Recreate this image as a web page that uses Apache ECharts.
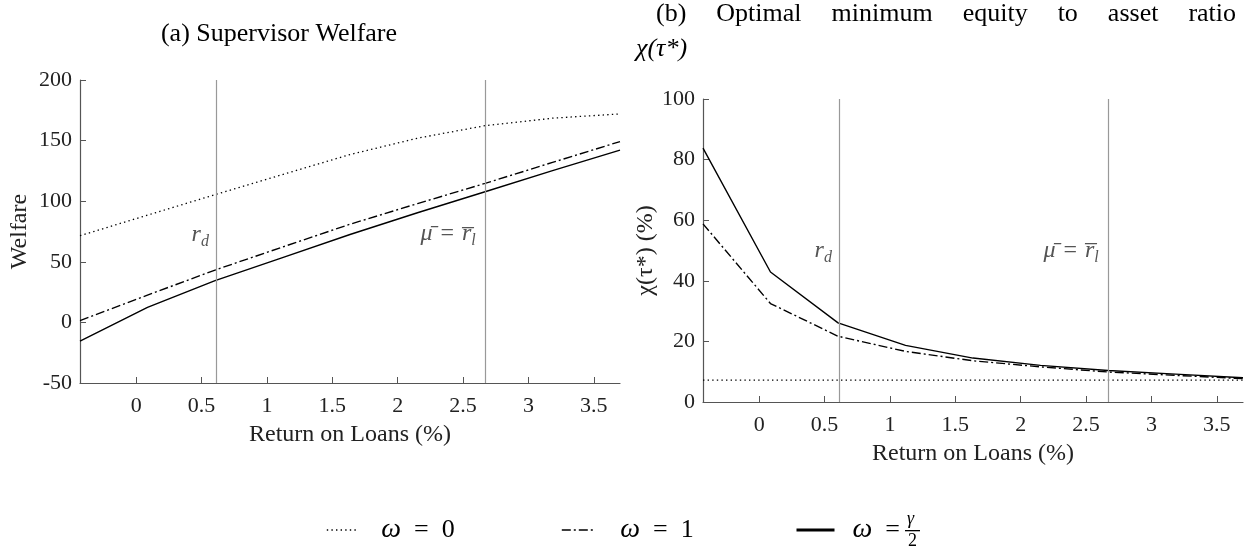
<!DOCTYPE html>
<html>
<head>
<meta charset="utf-8">
<script src="https://cdn.jsdelivr.net/npm/echarts@6/dist/echarts.min.js"></script>
<style>html,body{margin:0;padding:0;background:#fff}#c{width:1260px;height:552px}</style>
</head>
<body>
<div id="c"></div>
<script>
// ---- data ----
const returnOnLoans = [-0.43, 0.086, 0.603, 1.119, 1.635, 2.151, 2.668, 3.184, 3.7];
const welfareOmega0 = [71.5, 88.5, 105.4, 122, 138.5, 152, 162.3, 168.5, 172];
const welfareOmega1 = [1.5, 22.5, 43.2, 62.2, 81, 98, 114.7, 132, 149.2];
const welfareOmegaHalfGamma = [-15.5, 12.4, 34.4, 53.5, 72.5, 90.5, 107.8, 125.2, 142.2];
const ratioOmega0 = [7.2, 7.2, 7.2, 7.2, 7.2, 7.2, 7.2, 7.2, 7.2];
const ratioOmega1 = [58.8, 32.5, 21.7, 16.7, 13.6, 11.6, 9.9, 8.8, 7.7];
const ratioOmegaHalfGamma = [83.8, 42.9, 26.1, 18.7, 14.5, 12.1, 10.4, 9.2, 8.0];
const xTickValues = [0, 0.5, 1, 1.5, 2, 2.5, 3, 3.5];
const rd = 0.612;
const muBar = 2.665;
const seriesNames = ['ω = 0', 'ω = 1', 'ω = γ/2'];
const titleBWords = ['(b)', 'Optimal', 'minimum', 'equity', 'to', 'asset', 'ratio'];

const FONT = "'Liberation Serif', 'DejaVu Serif', serif";
const pairs = ys => returnOnLoans.map((x, i) => [x, ys[i]]);

const styles = [
  {type: [1.4, 3.2], width: 1.3, color: '#000'},
  {type: [9, 3, 2, 3], width: 1.4, color: '#000'},
  {type: 'solid', width: 1.4, color: '#000'}
];

const richLabels = {
  it: {fontFamily: FONT, fontStyle: 'italic', fontSize: 24, color: '#555'},
  sub: {fontFamily: FONT, fontStyle: 'italic', fontSize: 16, color: '#555', verticalAlign: 'bottom', padding: [14, 0, 0, 0]},
  up: {fontFamily: FONT, fontSize: 24, color: '#555', padding: [0, 8, 0, 8]}
};

function vlines() {
  return {
    silent: true, symbol: 'none', animation: false,
    label: {show: false},
    lineStyle: {color: '#999', width: 1.2, type: 'solid'},
    data: [{xAxis: rd}, {xAxis: muBar}]
  };
}
function annots(yPos) {
  return {
    silent: true, symbol: 'circle', symbolSize: 0, animation: false,
    label: {show: true, position: 'inside', rich: richLabels},
    data: [
      {coord: [0.49, yPos[0]], label: {formatter: '{it|r}{sub|d}'}},
      {coord: [2.385, yPos[1]], label: {formatter: '{it|μ\u0304}{up|=}{it|r\u0305}{sub|l}'}}
    ]
  };
}

function mkSeries(idx, data, name, k, extra) {
  const s = {
    name: name, type: 'line', xAxisIndex: idx, yAxisIndex: idx,
    data: pairs(data), showSymbol: false, symbol: 'none', animation: false,
    lineStyle: styles[k], itemStyle: {color: '#000'}
  };
  return Object.assign(s, extra || {});
}

const axisCommon = {
  axisLine: {show: true, onZero: false, lineStyle: {color: '#555', width: 1.2}},
  axisTick: {show: true, inside: true, length: 6, lineStyle: {color: '#555'}},
  splitLine: {show: false},
  axisLabel: {color: '#222', fontFamily: FONT, fontSize: 22},
  nameTextStyle: {color: '#222', fontFamily: FONT, fontSize: 24}
};

function xAx(gi) {
  return Object.assign({}, axisCommon, {
    type: 'value', gridIndex: gi, min: -0.43, max: 3.7,
    name: 'Return on Loans (%)', nameLocation: 'middle', nameGap: 40,
    axisTick: Object.assign({}, axisCommon.axisTick, {customValues: xTickValues}),
    axisLabel: Object.assign({}, axisCommon.axisLabel, {customValues: xTickValues, margin: 12})
  });
}
function yAx(gi, min, max, interval, name, gap) {
  return Object.assign({}, axisCommon, {
    type: 'value', gridIndex: gi, min: min, max: max, interval: interval,
    name: name, nameLocation: 'middle', nameGap: gap,
    axisLabel: Object.assign({}, axisCommon.axisLabel, {margin: 8})
  });
}

const legendRich = {
  i: {fontFamily: FONT, fontStyle: 'italic', fontSize: 28, color: '#000'},
  n: {fontFamily: FONT, fontSize: 26, color: '#000'}
};
function legendAt(left, name, text, w) {
  return {
    left: left, top: 516, padding: 0, itemWidth: w, itemHeight: 14,
    selectedMode: false, data: [name],
    formatter: () => text,
    textStyle: {fontFamily: FONT, fontSize: 26, color: '#000', rich: legendRich},
    itemStyle: {color: 'rgba(0,0,0,0)', borderColor: 'rgba(0,0,0,0)', borderWidth: 0},
    lineStyle: {color: '#000', width: name === seriesNames[2] ? 3 : 1.6}
  };
}

const titleBText = titleBWords.map(w => '{w|' + w + '}').join('{g| }');

const option = {
  animation: false,
  backgroundColor: '#fff',
  grid: [
    {left: 80, top: 80, width: 540, height: 303},
    {left: 703, top: 99, width: 540, height: 303}
  ],
  xAxis: [xAx(0), xAx(1)],
  yAxis: [
    yAx(0, -50, 200, 50, 'Welfare', 48),
    yAx(1, 0, 100, 20, 'χ(τ*) (%)', 44)
  ],
  legend: [
    legendAt(326, seriesNames[0], '{n|   }{i|ω}{n|  =  0}', 30),
    legendAt(561, seriesNames[1], '{n|   }{i|ω}{n|  =  1}', 34),
    legendAt(795, seriesNames[2], '{n|  }{i|ω}{n|  =}', 38)
  ],
  graphic: [
    {type: 'text', x: 279, y: 21, style: {text: '(a) Supervisor Welfare', align: 'center', font: "26px 'Liberation Serif', serif", fill: '#000'}},
    {type: 'text', x: 656, y: 1, style: {
      text: titleBText,
      rich: {
        w: {fontFamily: FONT, fontSize: 26, color: '#000'},
        g: {fontFamily: FONT, fontSize: 26, width: 30}
      }
    }},
    {type: 'text', x: 636, y: 36, style: {text: 'χ(τ*)', font: "italic 26px 'Liberation Serif', serif", fill: '#000'}},
    {type: 'text', x: 907, y: 510, style: {text: 'γ', font: "italic 18px 'Liberation Serif', serif", fill: '#000'}},
    {type: 'rect', shape: {x: 905, y: 530, width: 15, height: 1.3}, style: {fill: '#000'}},
    {type: 'text', x: 908, y: 532, style: {text: '2', font: "18px 'Liberation Serif', serif", fill: '#000'}}
  ],
  series: [
    mkSeries(0, welfareOmega0, seriesNames[0], 0, {markLine: vlines(), markPoint: annots([72, 73])}),
    mkSeries(0, welfareOmega1, seriesNames[1], 1),
    mkSeries(0, welfareOmegaHalfGamma, seriesNames[2], 2),
    mkSeries(1, ratioOmega0, seriesNames[0], 0, {markLine: vlines(), markPoint: annots([50, 50])}),
    mkSeries(1, ratioOmega1, seriesNames[1], 1),
    mkSeries(1, ratioOmegaHalfGamma, seriesNames[2], 2)
  ]
};
const chart = echarts.init(document.getElementById('c'), null, {renderer: 'canvas'});
chart.setOption(option);
</script>
</body>
</html>
